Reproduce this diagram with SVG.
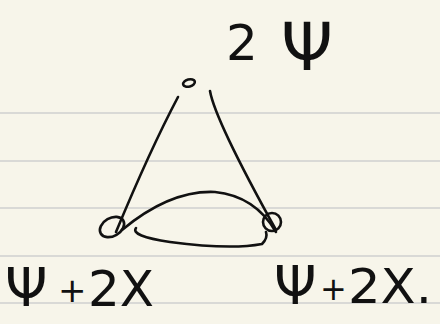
<svg xmlns="http://www.w3.org/2000/svg" width="440" height="324" viewBox="0 0 440 324">
<style>
.rule{stroke:#d9d9d6;stroke-width:2}
.ink{fill:none;stroke:#111;stroke-width:2.6;stroke-linecap:round;stroke-linejoin:round}
.lbl{font-family:"DejaVu Sans",sans-serif;fill:#111}
</style>
<rect width="440" height="324" fill="#f7f5ea"/>
<g id="paper">
<line class="rule" x1="0" y1="113" x2="440" y2="113"/>
<line class="rule" x1="0" y1="161" x2="440" y2="161"/>
<line class="rule" x1="0" y1="208" x2="440" y2="208"/>
<line class="rule" x1="0" y1="256" x2="440" y2="256"/>
<line class="rule" x1="0" y1="303" x2="440" y2="303"/>
</g>
<g id="connectors">
<path class="ink" d="M178 97 Q150 150 116 232"/>
<path class="ink" d="M210 91 Q215 120 276 230"/>
<path class="ink" d="M122 230 Q170 190 215 192 Q255 196 276 232"/>
<path class="ink" d="M136 228 Q130 236 170 242 Q230 250 262 244 Q268 238 266 232"/>
</g>
<g id="node-top">
<ellipse class="ink" cx="189" cy="83" rx="6" ry="3.5" transform="rotate(-15 189 83)"/>
<text class="lbl"><tspan x="226" y="60" font-size="50">2</tspan><tspan x="281" y="70" font-size="66">Ψ</tspan></text>
</g>
<g id="node-left">
<ellipse class="ink" cx="112" cy="227" rx="13" ry="9" transform="rotate(-30 112 227)"/>
<text class="lbl" font-size="50"><tspan x="5" y="306" font-size="54">Ψ</tspan><tspan x="58" y="302" font-size="34">+</tspan><tspan x="88" y="306">2X</tspan></text>
</g>
<g id="node-right">
<circle class="ink" cx="272" cy="222" r="9"/>
<text class="lbl" font-size="48"><tspan x="274" y="304" font-size="54">Ψ</tspan><tspan x="320" y="300" font-size="32">+</tspan><tspan x="348" y="303" textLength="84" lengthAdjust="spacingAndGlyphs">2X.</tspan></text>
</g>
</svg>
